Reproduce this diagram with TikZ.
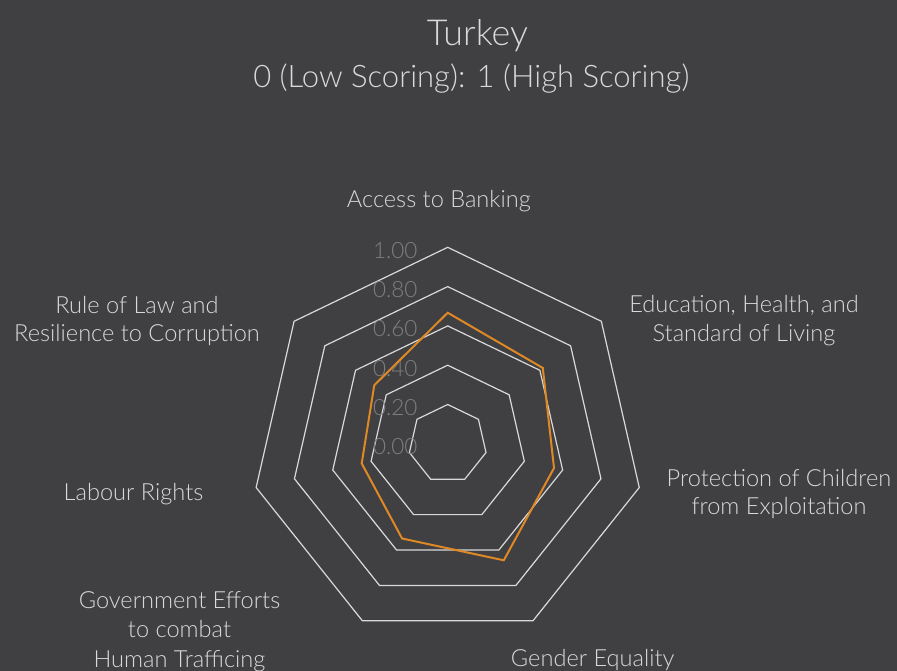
\documentclass[tikz,border=0pt]{standalone}
\usepackage{fontspec}
\setmainfont{Lato Light}
\newlength\mw
\settowidth\mw{\fontsize{10pt}{12pt}\selectfont Access to Banking}
\pgfmathsetmacro\labsz{1840/\mw}
\settowidth\mw{\fontsize{10pt}{12pt}\selectfont Turkey}
\pgfmathsetmacro\titsz{1010/\mw}
\settowidth\mw{\fontsize{10pt}{12pt}\selectfont 0 (Low Scoring): 1 (High Scoring)}
\pgfmathsetmacro\subsz{4360/\mw}
\settowidth\mw{\fontsize{10pt}{12pt}\selectfont 1.00}
\pgfmathsetmacro\scsz{443/\mw}
\begin{document}
\begin{tikzpicture}[x=1pt,y=-1pt]
\definecolor{bgc}{RGB}{64,64,66}
\definecolor{labc}{RGB}{217,217,217}
\definecolor{scc}{RGB}{128,128,128}
\definecolor{ringc}{RGB}{217,217,217}
\definecolor{datac}{RGB}{222,137,38}
\def\cx{447.7}
\def\cy{443.8}
\def\R{196.5}
\tikzset{
  ring/.style={draw=ringc, line width=1.2pt},
  datal/.style={draw=datac, line width=2pt, line join=miter},
  lab/.style={text=labc, align=center, inner sep=0pt, anchor=base,
    font=\fontsize{\labsz pt}{28.5pt}\selectfont},
  sclab/.style={text=scc, inner sep=0pt, anchor=base east,
    font=\fontsize{\scsz pt}{\scsz pt}\selectfont},
}
\fill[bgc] (0,0) rectangle (897,671);
\useasboundingbox (0,0) rectangle (897,671);
% rings
\foreach \k in {1,...,5} {
  \draw[ring] ({\cx},{\cy-\k*\R/5})
    \foreach \i in {1,...,6} { -- ({\cx+\k*\R/5*sin(\i*360/7)},{\cy-\k*\R/5*cos(\i*360/7)}) } -- cycle;
}
% scale labels
\foreach \k/\t in {0/0.00,1/0.20,2/0.40,3/0.60,4/0.80,5/1.00} {
  \node[sclab] (s\k) at (417.7,{\cy-\k*\R/5+11}) {\t};
}
% data
\foreach \v [count=\i from 0] in {0.667,0.619,0.555,0.658,0.535,0.449,0.478} {
  \coordinate (d\i) at ({\cx+\v*\R*sin(\i*360/7)},{\cy-\v*\R*cos(\i*360/7)});
}
\draw[datal] (d0) -- (d1) -- (d2) -- (d3) -- (d4) -- (d5) -- (d6) -- cycle;
% titles
\node[text=labc, inner sep=0pt, anchor=base, font=\fontsize{\titsz pt}{\titsz pt}\selectfont] (title) at (477.4,46) {Turkey};
\node[text=labc, inner sep=0pt, anchor=base, font=\fontsize{\subsz pt}{\subsz pt}\selectfont] (subtitle) at (471.3,87.3) {0 (Low Scoring): 1 (High Scoring)};
% axis labels (base = baseline of last line)
\node[lab] (access) at (438.9,207.3) {Access to Banking};
\node[lab] (edu) at (744,341) {Education, Health, and\\Standard of Living};
\node[lab] (prot) at (779,514.7) {Protection of Children\\from Exploitation};
\node[lab] (gender) at (592.7,666) {Gender Equality};
\node[lab, font=\fontsize{\labsz pt}{29.5pt}\selectfont] (gov) at (179.5,667) {Government Efforts\\to combat\\Human Trafficing};
\node[lab] (labour) at (133.5,500) {Labour Rights};
\node[lab] (rule) at (137,341.7) {Rule of Law and\\Resilience to Corruption};
\end{tikzpicture}
\end{document}
